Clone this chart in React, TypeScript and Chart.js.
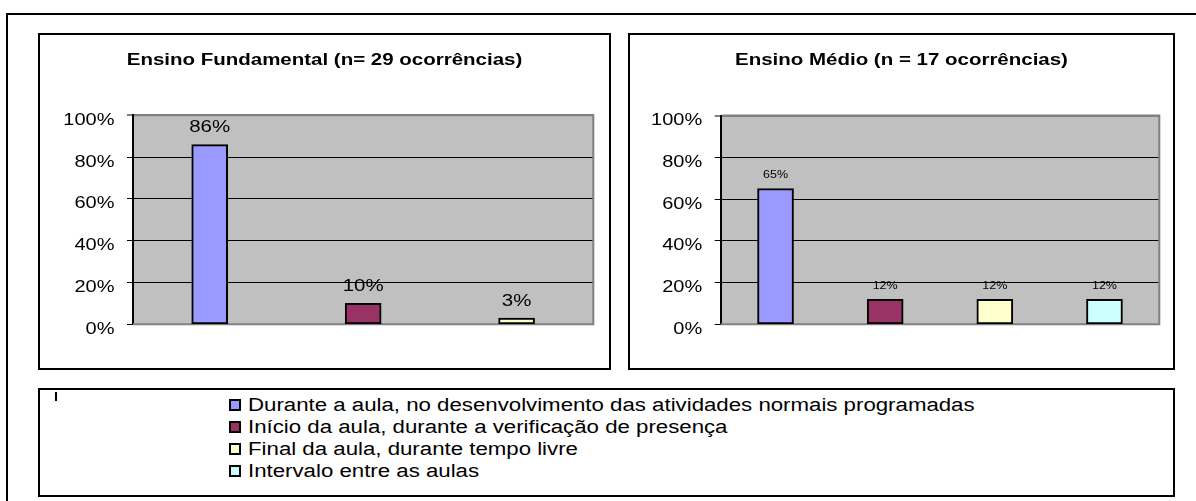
import React, { useEffect, useRef } from 'react';
import { Chart, registerables } from 'chart.js';

Chart.register(...registerables);

// ---------- data ----------
const titleFundamental = 'Ensino Fundamental (n= 29 ocorrências)';
const titleMedio = 'Ensino Médio (n = 17 ocorrências)';

const categoriesFundamental = [
  'Durante a aula, no desenvolvimento das atividades normais programadas',
  'Início da aula, durante a verificação de presença',
  'Final da aula, durante tempo livre',
];
const valuesFundamental = [86, 10, 3];

const categoriesMedio = [
  'Durante a aula, no desenvolvimento das atividades normais programadas',
  'Início da aula, durante a verificação de presença',
  'Final da aula, durante tempo livre',
  'Intervalo entre as aulas',
];
const valuesMedio = [65, 12, 12, 12];

const legendLabels = [
  'Durante a aula, no desenvolvimento das atividades normais programadas',
  'Início da aula, durante a verificação de presença',
  'Final da aula, durante tempo livre',
  'Intervalo entre as aulas',
];
const barColors = ['#9999FF', '#993366', '#FFFFCC', '#CCFFFF'];

const yTickValues = [0, 20, 40, 60, 80, 100];
const yTickLabels = ['0%', '20%', '40%', '60%', '80%', '100%'];

// ---------- helpers ----------
const FONT = '"Liberation Sans", Arial, Helvetica, sans-serif';

function drawStretched(
  ctx: CanvasRenderingContext2D,
  text: string,
  x: number,
  y: number,
  align: CanvasTextAlign,
  k: number,
  font: string,
  color: string
) {
  ctx.save();
  ctx.translate(x, y);
  ctx.scale(k, 1);
  ctx.font = font;
  ctx.fillStyle = color;
  ctx.textAlign = align;
  ctx.textBaseline = 'alphabetic';
  ctx.fillText(text, 0, 0);
  ctx.restore();
}

type PanelProps = {
  title: string;
  labels: string[];
  values: number[];
  width: number;
  height: number;
  plotLeft: number;
  padRight: number;
  padTop: number;
  padBottom: number;
  valueFont: string;
  valueK: number;
  valueGap: number;
};

function ChartPanel(p: PanelProps) {
  const ref = useRef<HTMLCanvasElement>(null);

  useEffect(() => {
    const canvas = ref.current!;
    const decor = {
      id: 'panelDecor',
      beforeDraw(chart: any) {
        const { ctx, chartArea: a } = chart;
        ctx.save();
        ctx.fillStyle = '#C0C0C0';
        ctx.fillRect(a.left, a.top, a.right - a.left, a.bottom - a.top);
        ctx.restore();
      },
      beforeDatasetsDraw(chart: any) {
        const { ctx, chartArea: a } = chart;
        ctx.save();
        ctx.strokeStyle = '#808080';
        ctx.lineWidth = 2;
        ctx.beginPath();
        ctx.moveTo(a.left + 1, a.top);
        ctx.lineTo(a.right, a.top);
        ctx.lineTo(a.right, a.bottom);
        ctx.lineTo(a.left, a.bottom);
        ctx.stroke();
        ctx.restore();
      },
      afterDraw(chart: any) {
        const { ctx, chartArea: a } = chart;
        // title
        drawStretched(ctx, p.title, chart.width / 2, 30, 'center', 1.28, `bold 16px ${FONT}`, '#000');
        // y tick labels
        const ys = chart.scales.y;
        yTickValues.forEach((v, i) => {
          const y = ys.getPixelForValue(v);
          drawStretched(ctx, yTickLabels[i], a.left - 18.5, y + 9.5, 'right', 1.25, `16px ${FONT}`, '#000');
        });
        // value labels
        const meta = chart.getDatasetMeta(0);
        meta.data.forEach((el: any, i: number) => {
          drawStretched(ctx, `${p.values[i]}%`, el.x, el.y - p.valueGap, 'center', p.valueK, p.valueFont, '#000');
        });
      },
    };

    const chart = new Chart(canvas, {
      type: 'bar',
      data: {
        labels: p.labels,
        datasets: [
          {
            data: p.values,
            backgroundColor: barColors.slice(0, p.values.length),
            borderColor: '#000',
            borderWidth: 2,
            borderSkipped: false,
            barThickness: 36,
          } as any,
        ],
      },
      options: {
        responsive: false,
        animation: false,
        events: [],
        layout: {
          padding: { left: 0, right: p.padRight, top: p.padTop, bottom: p.padBottom },
        },
        plugins: {
          legend: { display: false },
          tooltip: { enabled: false },
          title: { display: false },
        },
        scales: {
          x: {
            type: 'category',
            offset: true,
            grid: { display: false },
            border: { display: false },
            ticks: { display: false },
            afterFit: (s: any) => {
              s.height = 0;
            },
          },
          y: {
            min: 0,
            max: 100,
            ticks: { display: false, stepSize: 20 },
            grid: {
              color: (c: any) => (c.tick && c.tick.value === 100 ? '#808080' : '#000'),
              lineWidth: (c: any) => (c.tick && c.tick.value === 100 ? 2 : 1),
              tickColor: '#000',
              tickWidth: 1,
              tickLength: 6,
              drawTicks: true,
            },
            border: { display: true, color: '#000', width: 2 },
            afterFit: (s: any) => {
              s.width = p.plotLeft;
            },
          },
        },
      } as any,
      plugins: [decor],
    });
    return () => chart.destroy();
  }, []);

  return <canvas ref={ref} width={p.width} height={p.height} style={{ display: 'block' }} />;
}

export default function App() {
  const legendBase = 411;
  const legendStep = 22;
  return (
    <div
      style={{
        position: 'fixed',
        left: 0,
        top: 0,
        width: 1196,
        height: 501,
        overflow: 'hidden',
        background: '#fff',
      }}
    >
      {/* outer frame (extends past the picture) */}
      <div
        style={{
          position: 'absolute',
          left: 6,
          top: 13,
          width: 1300,
          height: 600,
          border: '2px solid #000',
          boxSizing: 'border-box',
        }}
      />
      {/* left chart */}
      <div
        style={{
          position: 'absolute',
          left: 38,
          top: 33,
          width: 573,
          height: 337,
          border: '2px solid #000',
          boxSizing: 'border-box',
          background: '#fff',
        }}
      >
        <ChartPanel
          title={titleFundamental}
          labels={categoriesFundamental}
          values={valuesFundamental}
          width={569}
          height={333}
          plotLeft={93}
          padRight={15.7}
          padTop={80.3}
          padBottom={43.7}
          valueFont={`16px ${FONT}`}
          valueK={1.28}
          valueGap={12.5}
        />
      </div>
      {/* right chart */}
      <div
        style={{
          position: 'absolute',
          left: 628,
          top: 33,
          width: 547,
          height: 337,
          border: '2px solid #000',
          boxSizing: 'border-box',
          background: '#fff',
        }}
      >
        <ChartPanel
          title={titleMedio}
          labels={categoriesMedio}
          values={valuesMedio}
          width={543}
          height={333}
          plotLeft={90.7}
          padRight={13.7}
          padTop={80.5}
          padBottom={43.7}
          valueFont={`10px ${FONT}`}
          valueK={1.25}
          valueGap={10.5}
        />
      </div>
      {/* legend box */}
      <div
        style={{
          position: 'absolute',
          left: 38,
          top: 388,
          width: 1137,
          height: 109,
          border: '2px solid #000',
          boxSizing: 'border-box',
          background: '#fff',
        }}
      />
      <div style={{ position: 'absolute', left: 54.5, top: 392, width: 2, height: 9, background: '#000' }} />
      {legendLabels.map((label, i) => {
        const base = legendBase + legendStep * i;
        return (
          <React.Fragment key={i}>
            <div
              style={{
                position: 'absolute',
                left: 229,
                top: base - 12.5,
                width: 12,
                height: 12,
                border: '2px solid #000',
                boxSizing: 'border-box',
                background: barColors[i],
              }}
            />
            <div
              style={{
                position: 'absolute',
                left: 248,
                top: base - 17.24,
                fontFamily: FONT,
                fontSize: 18,
                lineHeight: '22px',
                whiteSpace: 'nowrap',
                color: '#000',
                transform: 'scaleX(1.235)',
                transformOrigin: '0 0',
              }}
            >
              {label}
            </div>
          </React.Fragment>
        );
      })}
    </div>
  );
}
